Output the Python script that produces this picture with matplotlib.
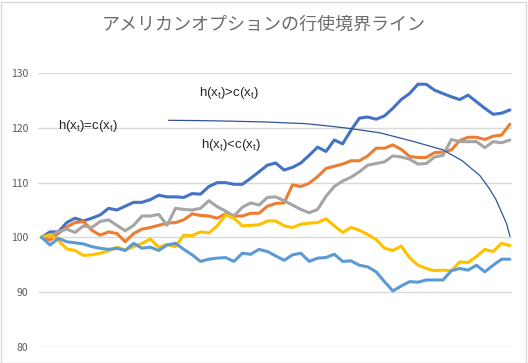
import matplotlib
matplotlib.use("Agg")
import matplotlib.pyplot as plt
from matplotlib.patches import Rectangle

plt.rcParams['font.family'] = ['Noto Sans CJK JP', 'DejaVu Sans']

title = "アメリカンオプションの行使境界ライン"

steps = list(range(57))

dark_blue = [100, 101.0, 101.0, 102.7, 103.5, 103.0, 103.5, 104.1, 105.3, 105.0,
             105.7, 106.4, 106.4, 106.9, 107.7, 107.4, 107.4, 107.3, 108.0, 107.9,
             109.3, 110.0, 110.0, 109.7, 109.7, 110.8, 112.0, 113.2, 113.6, 112.3,
             112.8, 113.6, 115.0, 116.5, 115.7, 117.8, 117.1, 119.6, 121.8, 122.0,
             121.6, 122.2, 123.6, 125.2, 126.3, 128.0, 128.0, 126.9, 126.3, 125.7,
             125.2, 126.0, 124.8, 123.6, 122.5, 122.7, 123.3]

orange = [100, 99.5, 100.7, 101.9, 102.7, 102.9, 101.3, 100.4, 101.0, 100.7,
          99.2, 100.7, 101.5, 101.8, 102.2, 102.6, 102.7, 103.2, 104.3, 104.0,
          103.9, 103.5, 104.3, 103.9, 103.9, 104.4, 104.4, 105.7, 106.2, 106.3,
          109.6, 109.3, 109.9, 111.1, 112.6, 113.0, 113.4, 114.0, 114.0, 114.9,
          116.3, 116.3, 116.9, 116.1, 114.8, 114.6, 114.6, 115.5, 115.6, 116.0,
          117.7, 118.3, 118.3, 117.9, 118.5, 118.7, 120.7]

gray = [100, 100.3, 101.0, 101.5, 100.9, 102.1, 101.8, 102.9, 103.2, 102.2,
        101.2, 102.2, 103.9, 103.9, 104.2, 102.2, 105.3, 105.1, 105.0, 105.3,
        106.7, 105.6, 104.8, 103.9, 105.5, 106.3, 105.9, 107.3, 107.4, 106.7,
        105.9, 105.1, 104.5, 105.1, 107.5, 109.3, 110.3, 111.0, 112.0, 113.2,
        113.5, 113.8, 114.9, 114.7, 114.3, 113.4, 113.5, 114.7, 115.0, 117.9,
        117.5, 117.5, 117.5, 116.4, 117.5, 117.3, 117.8]

yellow = [100, 100.5, 99.4, 97.9, 97.6, 96.7, 96.8, 97.1, 97.5, 98.2,
          97.7, 98.3, 98.9, 99.7, 98.2, 98.7, 98.3, 100.4, 100.3, 101.0,
          100.8, 102.1, 104.1, 103.5, 102.1, 102.2, 102.3, 103.0, 103.0, 102.1,
          101.8, 102.4, 102.6, 102.7, 103.4, 102.1, 100.9, 101.8, 101.3, 100.5,
          99.6, 98.0, 97.6, 98.4, 96.3, 94.9, 94.3, 93.9, 94.0, 93.9,
          95.5, 95.4, 96.5, 97.8, 97.4, 98.9, 98.5]

light_blue = [100, 98.6, 99.8, 99.2, 99.0, 98.8, 98.3, 98.0, 97.8, 98.0,
              97.6, 98.9, 98.0, 98.2, 97.6, 98.6, 98.9, 97.8, 96.8, 95.6,
              96.0, 96.2, 96.3, 95.6, 97.1, 96.9, 97.8, 97.4, 96.6, 95.8,
              96.8, 97.1, 95.6, 96.2, 96.3, 96.9, 95.6, 95.7, 94.9, 94.6,
              93.7, 91.9, 90.2, 91.1, 91.9, 91.8, 92.2, 92.2, 92.2, 93.9,
              94.3, 94.0, 94.9, 93.7, 94.9, 96.0, 96.0]

boundary_t = [15.2, 18.9, 22.5, 26.7, 31.5, 34.7, 36.9, 40.5, 44.3, 48.0,
              50.3, 52.4, 53.5, 54.3, 55.0, 55.6, 56.0]
boundary_v = [121.4, 121.35, 121.25, 121.1, 120.8, 120.3, 119.9, 119.1, 117.6, 116.0,
              114.0, 111.3, 109.0, 107.0, 104.6, 102.5, 100.2]

yticks = [80, 90, 100, 110, 120, 130]

series = [
    (dark_blue, '#4472C4'),
    (orange, '#ED7D31'),
    (gray, '#A5A5A5'),
    (yellow, '#FFC000'),
    (light_blue, '#5B9BD5'),
]

W, H = 528, 363
fig = plt.figure(figsize=(W / 100, H / 100), dpi=100)
fig.patch.set_facecolor('white')
fig.patches.append(Rectangle((0.5 / W, 0.5 / H), 1 - 2.5 / W, 1 - 2.5 / H,
                             transform=fig.transFigure, fill=False,
                             edgecolor='#D9D9D9', linewidth=1.0))

left, right = 38.3 / W, 512 / W
bottom, top = 1 - 346.7 / H, 1 - 73.3 / H
ax = fig.add_axes([left, bottom, right - left, top - bottom])

for vals, col in series:
    ax.plot(steps, vals, color=col, linewidth=2.2, solid_joinstyle='round',
            solid_capstyle='round', zorder=3)

ax.plot(boundary_t, boundary_v, color='#2F5597', linewidth=0.9, zorder=4)

ax.set_xlim(-0.4, 56.25)
ax.set_ylim(80, 130)
ax.set_yticks(yticks)
ax.set_yticklabels([str(v) for v in yticks], color='#595959', fontsize=7.5)
ax.set_xticks([])
ax.tick_params(axis='y', length=0, pad=7)
for s in ax.spines.values():
    s.set_visible(False)
ax.grid(axis='y', color='#D9D9D9', linewidth=1.0)
ax.set_axisbelow(True)
ax.patch.set_alpha(0)

fig.text(0.5, 1 - 25 / H, title, ha='center', va='center', fontsize=13,
         color='#6E6E6E')

ann_font = ['Liberation Sans', 'DejaVu Sans']
labels = [
    (r'h(x$\mathregular{_t}$)>c(x$\mathregular{_t}$)', 229, 93),
    (r'h(x$\mathregular{_t}$)=c(x$\mathregular{_t}$)', 88, 126),
    (r'h(x$\mathregular{_t}$)<c(x$\mathregular{_t}$)', 231, 145),
]
for txt, px, py in labels:
    fig.text(px / W, 1 - py / H, txt, ha='center', va='center', fontsize=9.5,
             color='#262626', family=ann_font)

fig.savefig('out.png', dpi=100)
